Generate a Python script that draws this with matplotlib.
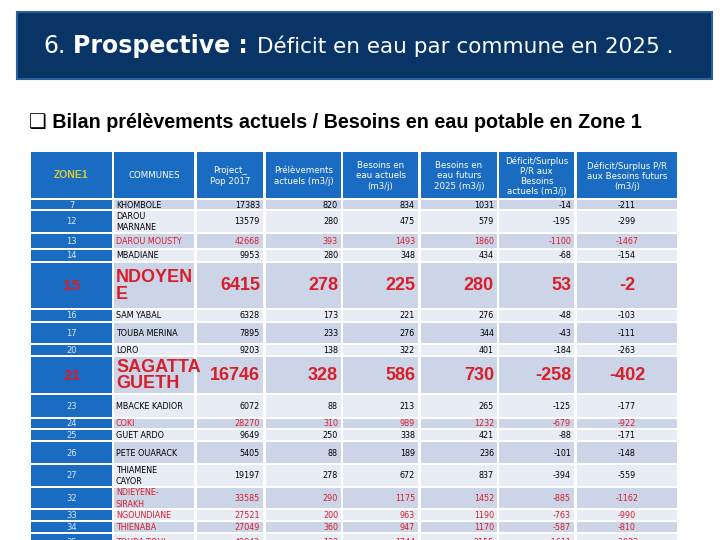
import matplotlib.pyplot as plt
from matplotlib.patches import Rectangle

# table data (Zone 1)
zones = [7, 12, 13, 14, 15, 16, 17, 20, 21, 23, 24, 25, 26, 27, 32, 33, 34, 35]
communes = ['KHOMBOLE', 'DAROU\nMARNANE', 'DAROU MOUSTY', 'MBADIANE', 'NDOYEN\nE',
            'SAM YABAL', 'TOUBA MERINA', 'LORO', 'SAGATTA\nGUETH', 'MBACKE KADIOR',
            'COKI', 'GUET ARDO', 'PETE OUARACK', 'THIAMENE\nCAYOR', 'NDIEYENE-\nSIRAKH',
            'NGOUNDIANE', 'THIENABA', 'TOUBA-TOUL']
pop_2017 = [17383, 13579, 42668, 9953, 6415, 6328, 7895, 9203, 16746, 6072,
            28270, 9649, 5405, 19197, 33585, 27521, 27049, 49842]
prelevements = [820, 280, 393, 280, 278, 173, 233, 138, 328, 88,
                310, 250, 88, 278, 290, 200, 360, 133]
besoins_actuels = [834, 475, 1493, 348, 225, 221, 276, 322, 586, 213,
                   989, 338, 189, 672, 1175, 963, 947, 1744]
besoins_2025 = [1031, 579, 1860, 434, 280, 276, 344, 401, 730, 265,
                1232, 421, 236, 837, 1452, 1190, 1170, 2155]
deficit_actuel = [-14, -195, -1100, -68, 53, -48, -43, -184, -258, -125,
                  -679, -88, -101, -394, -885, -763, -587, -1611]
deficit_2025 = [-211, -299, -1467, -154, -2, -103, -111, -263, -402, -177,
                -922, -171, -148, -559, -1162, -990, -810, -2022]
red_zones = [13, 15, 21, 24, 32, 33, 34, 35]
big_zones = [15, 21]

headers = ['ZONE1', 'COMMUNES', 'Project_\nPop 2017', 'Prélèvements\nactuels (m3/j)',
           'Besoins en\neau actuels\n(m3/j)', 'Besoins en\neau futurs\n2025 (m3/j)',
           'Déficit/Surplus\nP/R aux\nBesoins\nactuels (m3/j)',
           'Déficit/Surplus P/R\naux Besoins futurs\n(m3/j)']

# layout in pixels
col_edges = [(31, 112), (114, 194), (197, 263), (266, 341), (343, 418),
             (421, 497), (499, 574), (577, 677)]
col_align = ['center', 'left', 'right', 'right', 'right', 'right', 'right', 'center']
header_top, header_h = 152, 46
row_h = [9, 21, 14, 11, 45, 11, 20, 10, 36, 22, 9, 10, 21, 21, 20, 10, 10, 16]
gap = 2

navy = '#083565'
blue = '#1a6cc2'
row_dark = '#ccd4e8'
row_light = '#e8ecf5'
red = '#d81e28'

fig = plt.figure(figsize=(7.2, 5.4), dpi=100)
ax = fig.add_axes([0, 0, 1, 1])
ax.set_xlim(0, 720)
ax.set_ylim(540, 0)
ax.axis('off')

# title bar
ax.add_patch(Rectangle((17, 12), 695, 67, fc=navy, ec='#2a5f9c', lw=1.5))
fig.canvas.draw()
r = fig.canvas.get_renderer()
t = ax.text(43, 53, '6.', fontsize=17, color='white', family='DejaVu Sans', va='baseline')
x = t.get_window_extent(r).x1 + 8
t = ax.text(x, 53, 'Prospective :', fontsize=17, fontweight='bold', color='white',
            family='DejaVu Sans', va='baseline')
x = t.get_window_extent(r).x1 + 9
ax.text(x, 53, 'Déficit en eau par commune en 2025 .', fontsize=15.5, color='white',
        family='DejaVu Sans', va='baseline')

ax.text(29, 128, '❑ Bilan prélèvements actuels / Besoins en eau potable en Zone 1',
        fontsize=14.2, fontweight='bold', family=['Liberation Sans', 'DejaVu Sans'],
        va='baseline')

# header
for i, (x0, x1) in enumerate(col_edges):
    ax.add_patch(Rectangle((x0, header_top), x1 - x0, header_h, fc=blue, ec='none'))
    if i == 0:
        ax.text((x0 + x1) / 2, header_top + header_h / 2, headers[i], color='#d6cb3a',
                fontsize=7.5, fontweight='bold', ha='center', va='center',
                family='Liberation Sans')
    else:
        ax.text((x0 + x1) / 2, header_top + header_h / 2 + 1, headers[i], color='white',
                fontsize=6.2, ha='center', va='center', linespacing=1.15,
                family='DejaVu Sans')

# body rows
y = header_top + header_h + gap
for k, z in enumerate(zones):
    h = row_h[k]
    bg = row_dark if k % 2 == 0 else row_light
    is_red = z in red_zones
    is_big = z in big_zones
    color = red if is_red else 'black'
    cells = [str(z), communes[k], pop_2017[k], prelevements[k], besoins_actuels[k],
             besoins_2025[k], deficit_actuel[k], deficit_2025[k]]
    for i, (x0, x1) in enumerate(col_edges):
        fc = blue if i == 0 else bg
        ax.add_patch(Rectangle((x0, y), x1 - x0, h, fc=fc, ec='none'))
        txt = str(cells[i])
        if col_align[i] == 'center':
            tx = (x0 + x1) / 2
        elif col_align[i] == 'left':
            tx = x0 + 2
        else:
            tx = x1 - 3
        if i == 0:
            if is_big:
                kw = dict(color=red, fontsize=11, fontweight='bold', family='Liberation Sans')
            else:
                kw = dict(color='#dce5f5', fontsize=6, family='DejaVu Sans')
        elif is_big:
            kw = dict(color=red, fontsize=13, fontweight='bold', family='Liberation Sans',
                      linespacing=1.0)
        else:
            kw = dict(color=color, fontsize=5.8, family='DejaVu Sans', linespacing=1.3)
        ax.text(tx, y + h / 2 + 0.5, txt, ha=col_align[i], va='center', clip_on=True, **kw)
    y += h + gap

fig.savefig('out.png', dpi=100)
